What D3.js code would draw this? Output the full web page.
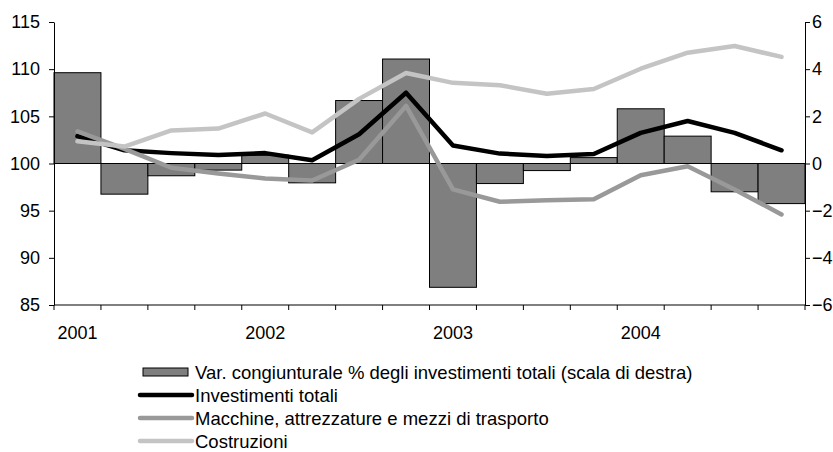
<!DOCTYPE html>
<html>
<head>
<meta charset="utf-8">
<script src="https://cdn.jsdelivr.net/npm/d3@7"></script>
<style>
  body { margin: 0; background: #fff; }
  text { font-family: "Liberation Sans", Arial, sans-serif; }
</style>
</head>
<body>
<div id="chart"></div>
<script>
var quarters = d3.range(16);
var yearLabels = ["2001", "2002", "2003", "2004"];
var varCong = [3.85, -1.3, -0.52, -0.28, 0.35, -0.82, 2.67, 4.43, -5.25, -0.85, -0.3, 0.25, 2.32, 1.16, -1.2, -1.7];
var investTot = [102.9, 101.4, 101.1, 100.9, 101.1, 100.35, 103.1, 107.5, 101.9, 101.05, 100.8, 101.0, 103.25, 104.5, 103.25, 101.4];
var macchine = [103.4, 101.55, 99.55, 98.95, 98.4, 98.2, 100.4, 106.1, 97.25, 95.95, 96.1, 96.2, 98.75, 99.7, 97.25, 94.6];
var costruzioni = [102.35, 101.8, 103.5, 103.7, 105.3, 103.3, 106.85, 109.6, 108.55, 108.3, 107.4, 107.9, 110.05, 111.75, 112.45, 111.3];
var leftTicks = [85, 90, 95, 100, 105, 110, 115];
var rightTicks = [-6, -4, -2, 0, 2, 4, 6];

var width = 833, height = 452,
    margin = {top: 22, left: 54, right: 28, bottom: 147},
    plotW = width - margin.left - margin.right,
    plotH = height - margin.top - margin.bottom;

var svg = d3.select("#chart").append("svg")
    .attr("width", width)
    .attr("height", height);

var canvas = svg.append("g")
    .attr("transform", "translate(" + margin.left + "," + margin.top + ")");

var x = d3.scaleBand().domain(quarters).range([0, plotW]).padding(0);
var yL = d3.scaleLinear().domain([85, 115]).range([plotH, 0]);
var yR = d3.scaleLinear().domain([-6, 6]).range([plotH, 0]);

// bars (right scale)
canvas.selectAll("rect.bar")
  .data(varCong)
  .enter().append("rect")
    .attr("class", "bar")
    .attr("x", function (d, i) { return x(i); })
    .attr("width", x.bandwidth())
    .attr("y", function (d) { return yR(Math.max(0, d)); })
    .attr("height", function (d) { return Math.abs(yR(d) - yR(0)); })
    .attr("fill", "#7f7f7f")
    .attr("stroke", "#000")
    .attr("stroke-width", 1);

// zero line
canvas.append("line")
  .attr("x1", 0).attr("x2", plotW)
  .attr("y1", yR(0)).attr("y2", yR(0))
  .attr("stroke", "#000").attr("stroke-width", 1);

var line = d3.line()
  .x(function (d, i) { return x(i) + x.bandwidth() / 2; })
  .y(function (d) { return yL(d); });

var series = [
  {values: investTot, color: "#000000"},
  {values: macchine, color: "#999999"},
  {values: costruzioni, color: "#c4c4c4"}
];

canvas.selectAll("path.series")
  .data(series)
  .enter().append("path")
    .attr("class", "series")
    .attr("d", function (d) { return line(d.values); })
    .attr("fill", "none")
    .attr("stroke", function (d) { return d.color; })
    .attr("stroke-width", 4.5)
    .attr("stroke-linejoin", "round")
    .attr("stroke-linecap", "round");

// left axis
var leftAxis = canvas.append("g")
  .call(d3.axisLeft(yL).tickValues(leftTicks).tickSize(5).tickPadding(9).tickSizeOuter(0));
leftAxis.selectAll("text").style("font-size", "18px").attr("fill", "#000");
leftAxis.selectAll("line, path").attr("stroke", "#000");

// right axis
var rightAxis = canvas.append("g")
  .attr("transform", "translate(" + plotW + ",0)")
  .call(d3.axisRight(yR).tickValues(rightTicks).tickSize(5).tickPadding(2).tickSizeOuter(0));
rightAxis.selectAll("text").style("font-size", "18px").attr("fill", "#000");
rightAxis.selectAll("line, path").attr("stroke", "#000");

// bottom axis
var bottom = canvas.append("g")
  .attr("transform", "translate(0," + plotH + ")");
bottom.append("line")
  .attr("x1", 0).attr("x2", plotW)
  .attr("stroke", "#000");
bottom.selectAll("line.tick")
  .data(d3.range(17))
  .enter().append("line")
    .attr("class", "tick")
    .attr("x1", function (d) { return d < 16 ? x(d) : plotW; })
    .attr("x2", function (d) { return d < 16 ? x(d) : plotW; })
    .attr("y1", 0).attr("y2", 5)
    .attr("stroke", "#000");
bottom.selectAll("text.year")
  .data(yearLabels)
  .enter().append("text")
    .attr("class", "year")
    .attr("x", function (d, i) { return x(i * 4) + x.bandwidth() / 2; })
    .attr("y", 34)
    .attr("text-anchor", "middle")
    .style("font-size", "18px")
    .text(function (d) { return d; });

// legend
var legendItems = [
  {label: "Var. congiunturale % degli investimenti totali (scala di destra)", type: "bar", color: "#7f7f7f"},
  {label: "Investimenti totali", type: "line", color: "#000000"},
  {label: "Macchine, attrezzature e mezzi di trasporto", type: "line", color: "#999999"},
  {label: "Costruzioni", type: "line", color: "#c4c4c4"}
];

var legend = svg.append("g").attr("transform", "translate(138,372)");
var rows = legend.selectAll("g.row")
  .data(legendItems)
  .enter().append("g")
    .attr("class", "row")
    .attr("transform", function (d, i) { return "translate(0," + i * 23 + ")"; });

rows.filter(function (d) { return d.type === "bar"; })
  .append("rect")
    .attr("x", 5).attr("y", -4).attr("width", 45).attr("height", 8)
    .attr("fill", function (d) { return d.color; })
    .attr("stroke", "#000");

rows.filter(function (d) { return d.type === "line"; })
  .append("line")
    .attr("x1", 2).attr("x2", 54)
    .attr("stroke", function (d) { return d.color; })
    .attr("stroke-width", 4.5)
    .attr("stroke-linecap", "round");

rows.append("text")
  .attr("x", 57)
  .attr("y", 6.5)
  .style("font-size", "18.5px")
  .text(function (d) { return d.label; });
</script>
</body>
</html>
